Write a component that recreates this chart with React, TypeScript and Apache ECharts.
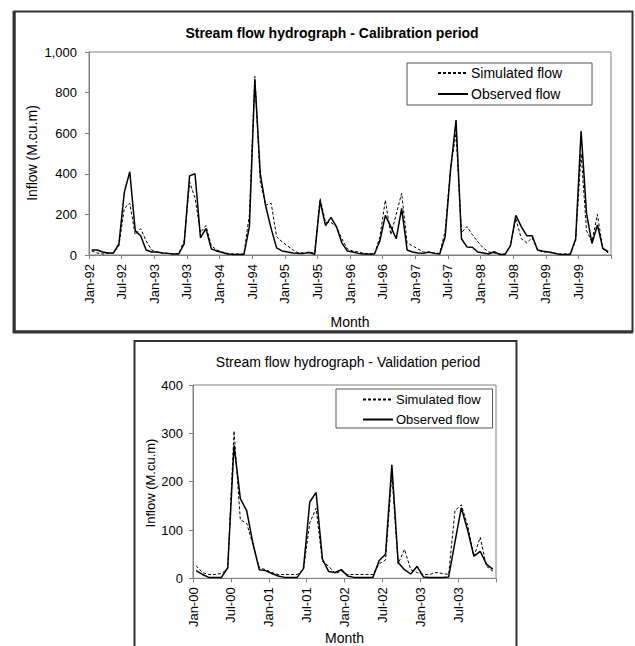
import React, { useEffect, useRef } from "react";
import * as echarts from "echarts";

const calTickLabels = ["Jan-92", "Jul-92", "Jan-93", "Jul-93", "Jan-94", "Jul-94", "Jan-95", "Jul-95", "Jan-96", "Jul-96", "Jan-97", "Jul-97", "Jan-98", "Jul-98", "Jan-99", "Jul-99"];
const valTickLabels = ["Jan-00", "Jul-00", "Jan-01", "Jul-01", "Jan-02", "Jul-02", "Jan-03", "Jul-03"];

// Monthly values, Jan-92 .. Dec-99
const calSimulated = [
  20, 10, 5, 8, 10, 45, 230, 255, 100, 130, 70, 25,
  15, 10, 8, 5, 8, 70, 360, 280, 110, 145, 45, 25,
  15, 8, 5, 5, 5, 200, 880, 360, 245, 255, 90, 65,
  45, 25, 10, 10, 15, 8, 280, 160, 160, 140, 80, 30,
  20, 15, 8, 5, 5, 90, 270, 100, 200, 305, 60, 45,
  30, 15, 12, 10, 8, 120, 430, 600, 110, 140, 100, 65,
  35, 15, 10, 5, 5, 45, 180, 80, 60, 85, 25, 15,
  15, 8, 5, 5, 5, 70, 500, 120, 65, 200, 30, 10,
];
const calObserved = [
  25, 25, 15, 10, 10, 55, 310, 410, 120, 95, 25, 15,
  15, 10, 8, 5, 5, 55, 390, 400, 85, 130, 30, 20,
  12, 5, 3, 3, 3, 140, 865, 400, 240, 130, 35, 20,
  15, 10, 8, 8, 12, 3, 265, 145, 185, 140, 60, 20,
  15, 8, 5, 5, 5, 70, 195, 140, 80, 230, 25, 15,
  10, 8, 15, 8, 5, 90, 420, 665, 80, 40, 38, 15,
  10, 5, 16, 3, 3, 45, 195, 140, 95, 95, 25, 18,
  15, 10, 3, 3, 3, 80, 610, 205, 57, 148, 33, 16,
];

// Monthly values, Jan-00 .. Dec-03
const valSimulated = [
  26, 12, 8, 8, 10, 20, 305, 121, 114, 70, 22, 18,
  12, 8, 8, 8, 8, 18, 115, 145, 35, 25, 10, 15,
  8, 8, 8, 8, 8, 30, 38, 215, 30, 60, 18, 12,
  8, 8, 12, 10, 8, 140, 152, 110, 45, 85, 25, 15,
];
const valObserved = [
  16, 8, 2, 2, 2, 22, 275, 165, 140, 72, 18, 16,
  10, 5, 2, 2, 2, 20, 158, 178, 40, 14, 12, 18,
  5, 2, 2, 2, 2, 37, 50, 235, 33, 18, 9, 25,
  3, 2, 2, 2, 3, 75, 146, 100, 46, 56, 29, 19,
];

const FONT = 'Arial, "Liberation Sans", sans-serif';
const AXIS_GRAY = "#808080";

const toPairs = (arr: number[]) => arr.map((v, i) => [i + 0.5, v]);

export default function App() {
  const ref = useRef<HTMLDivElement>(null);
  useEffect(() => {
    if (!ref.current) return;
    const chart = echarts.init(ref.current, null, { renderer: "svg" });
    const xAxisCommon = (labels: string[], max: number, gap: number) => ({
      type: "value",
      min: 0,
      max,
      interval: 6,
      name: "Month",
      nameLocation: "middle",
      nameGap: gap,
      nameTextStyle: { fontSize: 14, color: "#000", fontFamily: FONT },
      axisLine: { lineStyle: { color: AXIS_GRAY, width: 1 } },
      axisTick: { show: true, length: 4, lineStyle: { color: AXIS_GRAY } },
      splitLine: { show: false },
      axisLabel: {
        rotate: 90,
        margin: 9,
        fontSize: 13,
        color: "#000",
        fontFamily: FONT,
        formatter: (v: number) => labels[Math.round(v / 6)] ?? "",
      },
    });
    const yAxisCommon = (max: number, interval: number, fmt: (v: number) => string, margin: number) => ({
      type: "value",
      min: 0,
      max,
      interval,
      axisLine: { show: true, lineStyle: { color: AXIS_GRAY, width: 1 } },
      axisTick: { show: true, length: 4, lineStyle: { color: AXIS_GRAY } },
      splitLine: { show: false },
      axisLabel: { fontSize: 13, color: "#000", fontFamily: FONT, margin, formatter: fmt },
    });
    const simStyle = { color: "#000", width: 1, type: [3, 2] };
    const obsStyle = { color: "#000", width: 1.5, type: "solid" };
    chart.setOption({
      animation: false,
      backgroundColor: "#fff",
      title: [
        {
          text: "Stream flow hydrograph - Calibration period",
          left: 332,
          top: 26,
          textAlign: "center",
          padding: 0,
          textStyle: { fontSize: 14, fontWeight: "bold", color: "#000", fontFamily: FONT },
        },
        {
          text: "Stream flow hydrograph - Validation period",
          left: 348,
          top: 355,
          textAlign: "center",
          padding: 0,
          textStyle: { fontSize: 14, fontWeight: "normal", color: "#000", fontFamily: FONT },
        },
      ],
      legend: [
        {
          data: ["Simulated flow", "Observed flow"],
          orient: "vertical",
          left: 407,
          top: 63,
          padding: [3, 30, 4, 30],
          itemWidth: 30,
          itemHeight: 14,
          itemGap: 7,
          borderColor: "#555",
          borderWidth: 1,
          selectedMode: false,
          itemStyle: { opacity: 0 },
          textStyle: { fontSize: 14, color: "#000", fontFamily: FONT, padding: [0, 0, 0, -2] },
        },
        {
          data: ["Simulated flow", "Observed flow"],
          orient: "vertical",
          left: 336,
          top: 389,
          padding: [4, 12, 2, 26],
          itemWidth: 30,
          itemHeight: 14,
          itemGap: 7,
          borderColor: "#555",
          borderWidth: 1,
          selectedMode: false,
          itemStyle: { opacity: 0 },
          textStyle: { fontSize: 13, color: "#000", fontFamily: FONT, padding: [0, 0, 0, -2] },
        },
      ],
      grid: [
        { left: 89, right: 24, top: 52, bottom: 391, show: true, borderColor: AXIS_GRAY, borderWidth: 1 },
        { left: 193, right: 139, top: 385, bottom: 65, show: true, borderColor: AXIS_GRAY, borderWidth: 1 },
      ],
      xAxis: [
        { ...xAxisCommon(calTickLabels, 96, 60), gridIndex: 0 },
        { ...xAxisCommon(valTickLabels, 48, 52), gridIndex: 1 },
      ],
      yAxis: [
        { ...yAxisCommon(1000, 200, (v: number) => v.toLocaleString("en-US"), 12), gridIndex: 0 },
        { ...yAxisCommon(400, 100, (v: number) => String(v), 10), gridIndex: 1 },
      ],
      series: [
        { name: "Simulated flow", type: "line", xAxisIndex: 0, yAxisIndex: 0, symbol: "none", data: toPairs(calSimulated), lineStyle: simStyle, itemStyle: { color: "#000" } },
        { name: "Observed flow", type: "line", xAxisIndex: 0, yAxisIndex: 0, symbol: "none", data: toPairs(calObserved), lineStyle: obsStyle, itemStyle: { color: "#000" } },
        { name: "Simulated flow", type: "line", xAxisIndex: 1, yAxisIndex: 1, symbol: "none", data: toPairs(valSimulated), lineStyle: simStyle, itemStyle: { color: "#000" } },
        { name: "Observed flow", type: "line", xAxisIndex: 1, yAxisIndex: 1, symbol: "none", data: toPairs(valObserved), lineStyle: obsStyle, itemStyle: { color: "#000" } },
      ],
      graphic: [
        { type: "rect", shape: { x: 14.5, y: 11.5, width: 618, height: 320 }, style: { fill: "none", stroke: "#333", lineWidth: 2 }, silent: true },
        { type: "line", shape: { x1: 14, y1: 11, x2: 14, y2: 333 }, style: { stroke: "#333", lineWidth: 3 }, silent: true },
        { type: "line", shape: { x1: 13, y1: 332, x2: 633, y2: 332 }, style: { stroke: "#333", lineWidth: 3 }, silent: true },
        { type: "rect", shape: { x: 134.5, y: 341, width: 382, height: 320 }, style: { fill: "none", stroke: "#333", lineWidth: 2 }, silent: true },
        {
          type: "text",
          x: 32,
          y: 153,
          rotation: Math.PI / 2,
          style: { text: "Inflow (M.cu.m)", fontSize: 14, fontFamily: FONT, fill: "#000", textAlign: "center", textVerticalAlign: "middle" },
          silent: true,
        },
        {
          type: "text",
          x: 150,
          y: 483,
          rotation: Math.PI / 2,
          style: { text: "Inflow (M.cu.m)", fontSize: 13, fontFamily: FONT, fill: "#000", textAlign: "center", textVerticalAlign: "middle" },
          silent: true,
        },
      ],
    });
    return () => chart.dispose();
  }, []);
  return (
    <div
      ref={ref}
      style={{ position: "fixed", left: 0, top: 0, width: 635, height: 646, background: "#fff" }}
    />
  );
}
